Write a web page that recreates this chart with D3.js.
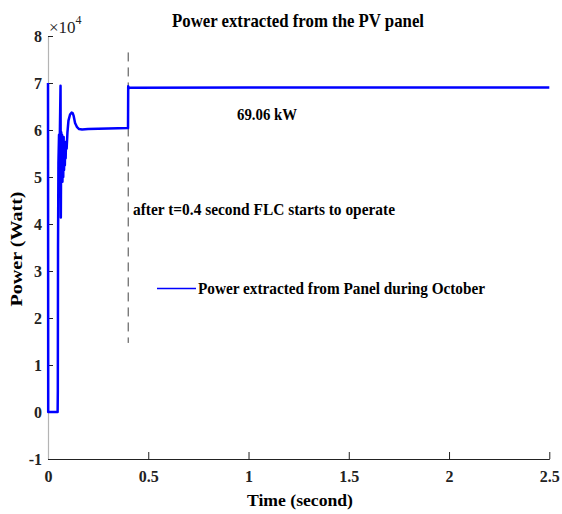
<!DOCTYPE html>
<html>
<head>
<meta charset="utf-8">
<script src="https://cdn.jsdelivr.net/npm/d3@7"></script>
<style>
  body { margin: 0; background: #fff; }
  svg { display: block; }
  text { font-family: "Liberation Serif", "Times New Roman", serif; }
</style>
</head>
<body>
<svg width="562" height="514"></svg>
<script>
// Data (power in units of 1e4 W)
var time  = [0, 0.0006, 0.001, 0.048, 0.049, 0.050, 0.052, 0.055, 0.058, 0.0625, 0.064,
             0.066, 0.068, 0.070, 0.072, 0.074, 0.076, 0.078, 0.080, 0.082, 0.084, 0.086,
             0.088, 0.090, 0.093, 0.097, 0.102, 0.110, 0.118, 0.123, 0.128, 0.135, 0.145,
             0.155, 0.170, 0.200, 0.300, 0.399, 0.400, 0.403, 0.410, 1.000, 2.500];
var power = [7.0, 3.25, 0, 0, 0.45, 3.5, 5.3, 5.9, 5.6, 6.94, 4.14,
             5.95, 4.9, 5.9, 4.9, 5.8, 5.0, 5.85, 5.15, 5.7, 5.25, 5.7,
             5.4, 5.75, 5.6, 5.95, 6.2, 6.33, 6.37, 6.36, 6.3, 6.15, 6.06,
             6.02, 6.01, 6.02, 6.03, 6.04, 6.93, 6.89, 6.9, 6.906, 6.906];
var xTicks = [0, 0.5, 1, 1.5, 2, 2.5];
var yTicks = [-1, 0, 1, 2, 3, 4, 5, 6, 7, 8];
var flcStart = 0.4;
var flcSpan = [1.47, 7.65];

var svg = d3.select("svg");

var x = d3.scaleLinear().domain([0, 2.5]).range([48, 549.3]);
var y = d3.scaleLinear().domain([-1, 8]).range([459, 36]);

// x axis (ticks inward)
var gx = svg.append("g")
    .attr("transform", "translate(0," + y(-1) + ")")
    .call(d3.axisBottom(x).tickValues(xTicks).tickFormat(function(d){ return String(d) })
      .tickSizeInner(-7).tickSizeOuter(0).tickPadding(12));
gx.select(".domain").attr("stroke", "#222").attr("stroke-width", 1.2);
gx.selectAll(".tick line").attr("stroke", "#222");
gx.selectAll("text").style("font-size", "16px").style("font-weight", "bold").attr("fill", "#222");

// y axis
var gy = svg.append("g")
    .attr("transform", "translate(" + x(0) + ",0)")
    .call(d3.axisLeft(y).tickValues(yTicks).tickFormat(function(d){ return String(d) })
      .tickSizeInner(-5).tickSizeOuter(0).tickPadding(6));
gy.select(".domain").attr("stroke", "#b4b4b4").attr("stroke-width", 1.2);
gy.selectAll(".tick line").attr("stroke", "#222");
gy.selectAll("text").style("font-size", "16px").style("font-weight", "bold").attr("fill", "#222");

// multiplier
var mult = svg.append("text").attr("x", 49).attr("y", 33).style("font-size", "17px").attr("fill", "#222");
mult.append("tspan").text("\u00d710");
mult.append("tspan").attr("dy", -9).style("font-size", "12px").text("4");

// dashed marker
svg.append("line")
    .attr("x1", x(flcStart)).attr("x2", x(flcStart))
    .attr("y1", y(flcSpan[1])).attr("y2", y(flcSpan[0]))
    .attr("stroke", "#444").attr("stroke-width", 1)
    .style("stroke-dasharray", "9,6");

// power trace
var pts = time.map(function(t, i){ return [t, power[i]] });
svg.append("path")
    .datum(pts)
    .attr("fill", "none")
    .attr("stroke", "#0000ff")
    .attr("stroke-width", 2.5)
    .attr("stroke-linejoin", "round")
    .attr("d", d3.line().x(function(d){ return x(d[0]) }).y(function(d){ return y(d[1]) }));

// title
svg.append("text").attr("x", 172).attr("y", 27)
    .attr("textLength", 252).attr("lengthAdjust", "spacingAndGlyphs")
    .style("font-size", "19px").style("font-weight", "bold")
    .text("Power extracted from the PV panel");

// annotations
svg.append("text").attr("x", 237).attr("y", 120)
    .attr("textLength", 60).attr("lengthAdjust", "spacingAndGlyphs")
    .style("font-size", "16px").style("font-weight", "bold")
    .text("69.06 kW");

svg.append("text").attr("x", 133).attr("y", 215)
    .attr("textLength", 262).attr("lengthAdjust", "spacingAndGlyphs")
    .style("font-size", "16px").style("font-weight", "bold")
    .text("after t=0.4 second FLC starts to operate");

// legend
svg.append("line").attr("x1", 157).attr("x2", 196).attr("y1", 288.5).attr("y2", 288.5)
    .attr("stroke", "#0000ff").attr("stroke-width", 1.3);
svg.append("text").attr("x", 198).attr("y", 294)
    .attr("textLength", 287).attr("lengthAdjust", "spacingAndGlyphs")
    .style("font-size", "17px").style("font-weight", "bold")
    .text("Power extracted from Panel during October");

// axis labels
svg.append("text").attr("x", 300).attr("y", 506)
    .attr("text-anchor", "middle")
    .attr("textLength", 106).attr("lengthAdjust", "spacingAndGlyphs")
    .style("font-size", "17px").style("font-weight", "bold")
    .text("Time (second)");

svg.append("text")
    .attr("transform", "translate(22,249) rotate(-90)")
    .attr("text-anchor", "middle")
    .attr("textLength", 115).attr("lengthAdjust", "spacingAndGlyphs")
    .style("font-size", "17px").style("font-weight", "bold")
    .text("Power (Watt)");
</script>
</body>
</html>
